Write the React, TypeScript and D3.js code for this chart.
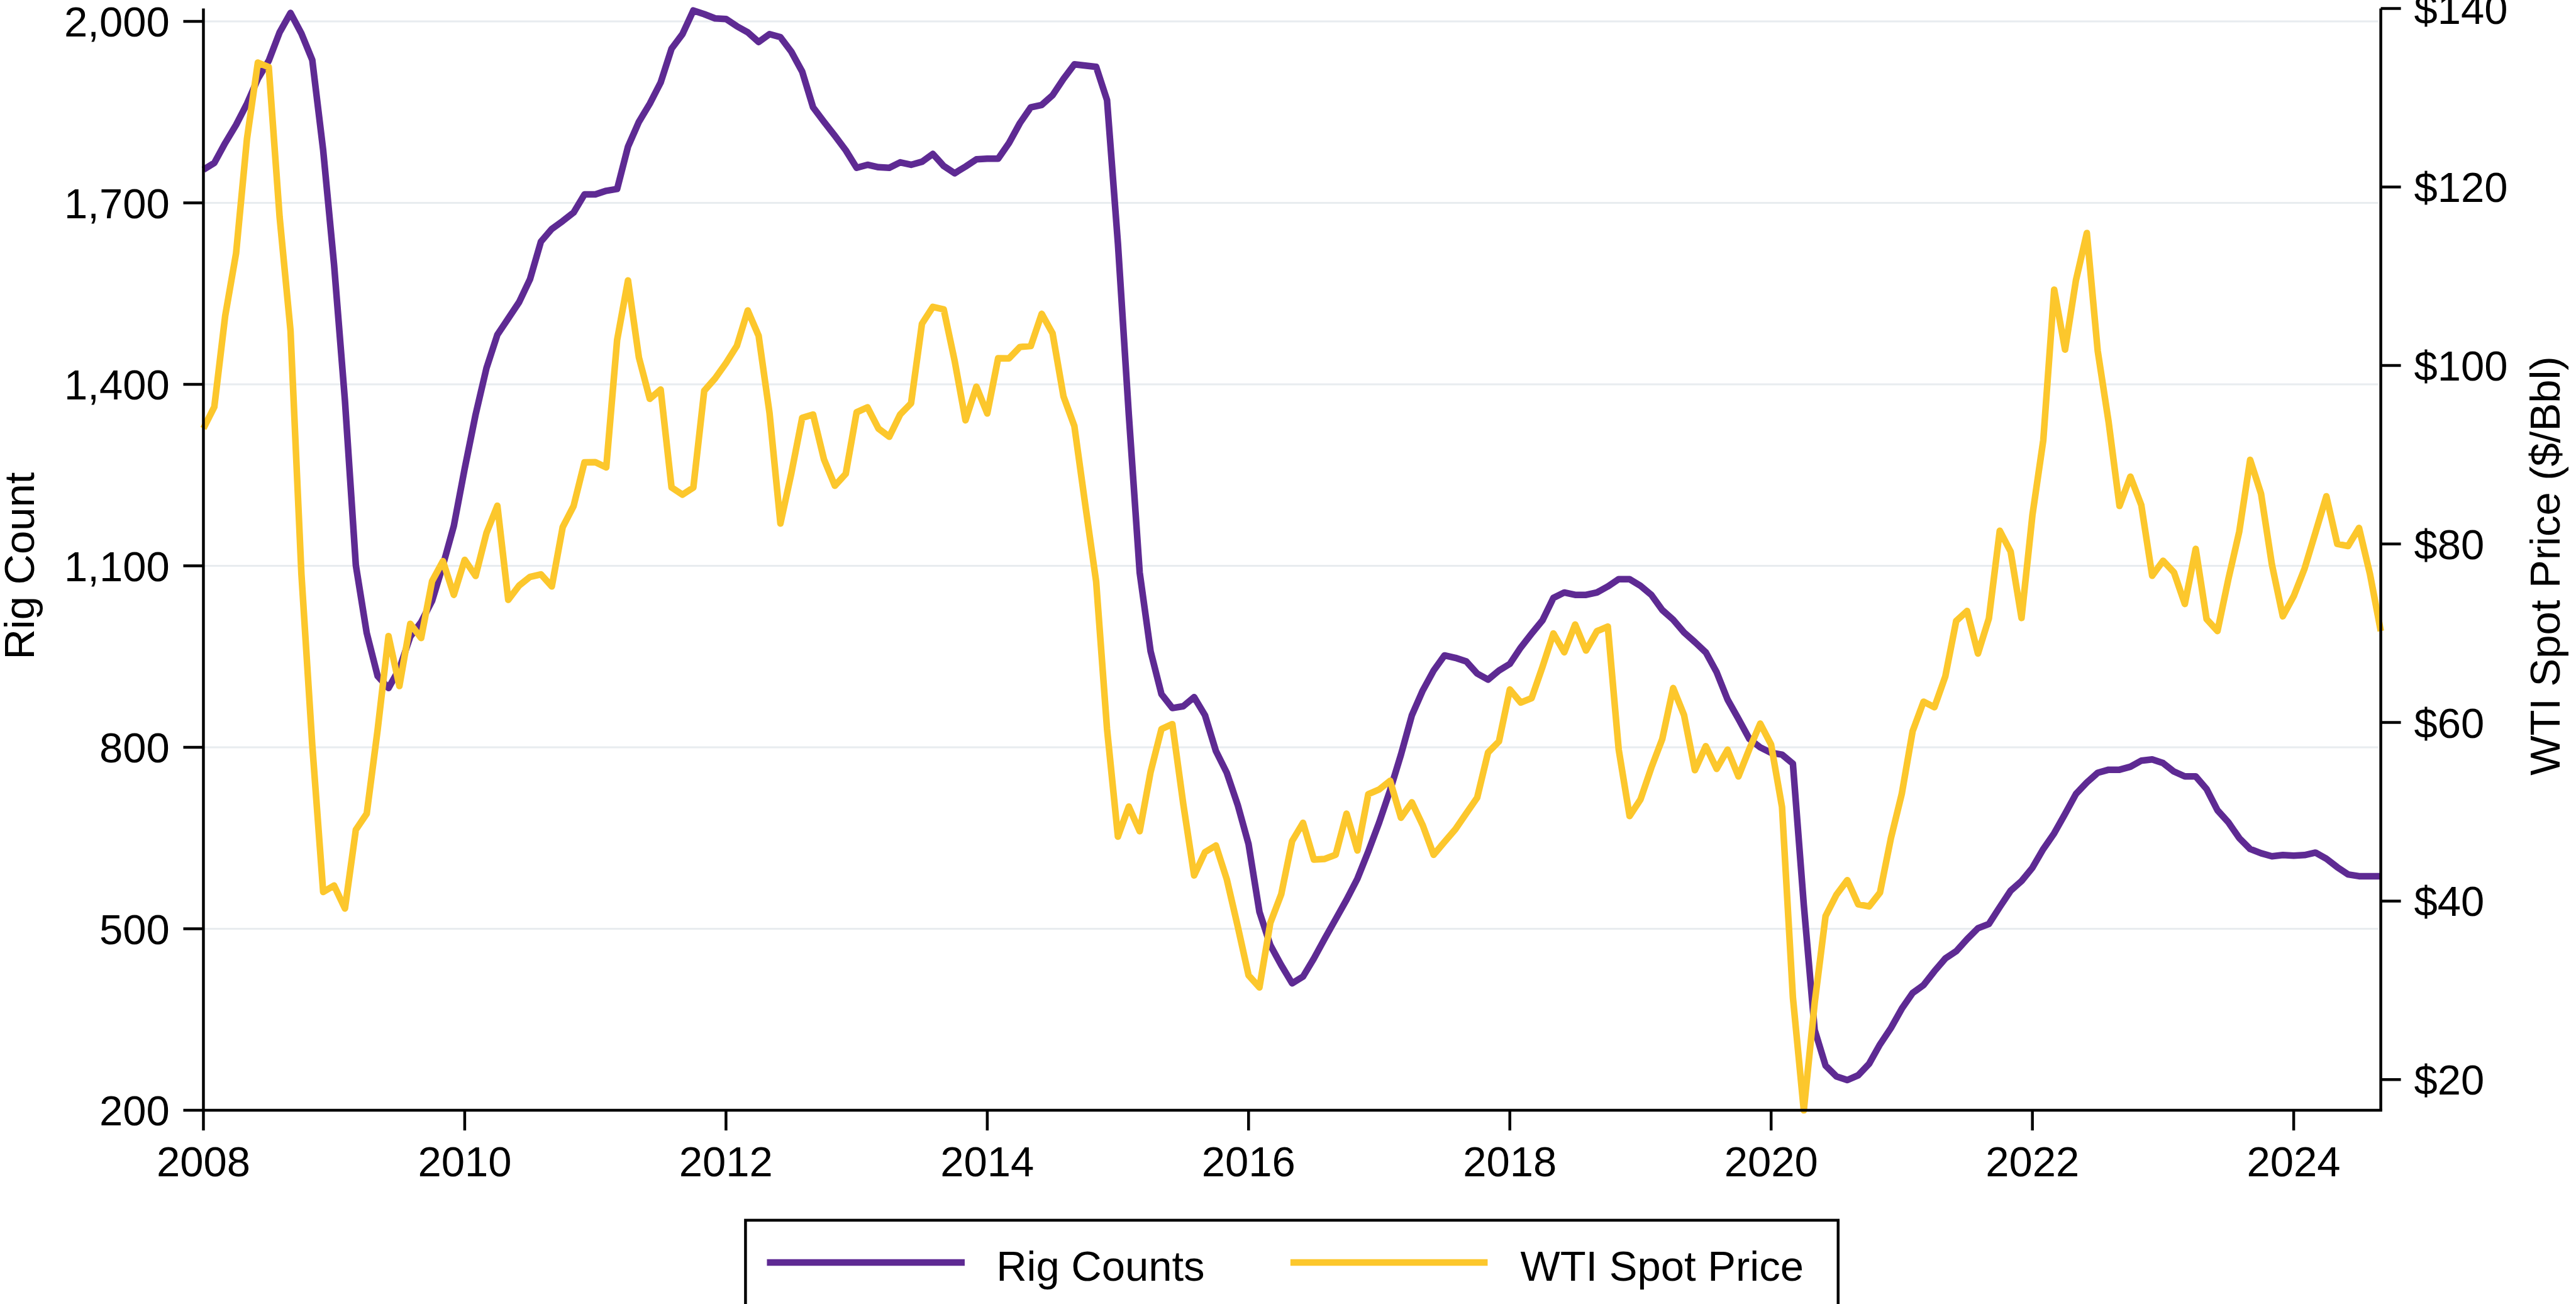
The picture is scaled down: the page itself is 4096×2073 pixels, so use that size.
import React from 'react';
import * as d3 from 'd3';

// Monthly data, Jan 2008 – Sep 2024
const startYear = 2008;

const rigCounts = [
  1755, 1766, 1799, 1829, 1864, 1905, 1935, 1982, 2014, 1980, 1936, 1787,
  1598, 1373, 1101, 989, 918, 898, 930, 983, 1007, 1042, 1101, 1166,
  1261, 1350, 1427, 1482, 1509, 1536, 1574, 1636, 1657, 1670, 1684, 1714,
  1714, 1720, 1723, 1793, 1834, 1864, 1899, 1955, 1979, 2018, 2012, 2005,
  2004, 1992, 1982, 1966, 1979, 1974, 1950, 1917, 1858, 1834, 1811, 1787,
  1758, 1763, 1759, 1758, 1767, 1763, 1768, 1781, 1761, 1749, 1760, 1772,
  1773, 1773, 1799, 1832, 1858, 1862, 1878, 1905, 1929, 1927, 1925, 1870,
  1633, 1350, 1089, 959, 888, 865, 868, 883, 853, 794, 758, 705,
  640, 528, 473, 440, 410, 421, 451, 484, 516, 548, 583, 628,
  676, 729, 788, 853, 894, 927, 952, 948, 942, 922, 912, 927,
  938, 965, 988, 1010, 1047, 1056, 1052, 1052, 1056, 1066, 1078, 1078,
  1067, 1052, 1027, 1011, 990, 974, 957, 924, 879, 847, 814, 800,
  791, 788, 773, 540, 333, 274, 256, 250, 258, 277, 309, 336,
  368, 394, 407, 430, 451, 463, 483, 501, 508, 536, 563, 579,
  601, 632, 658, 690, 723, 742, 758, 763, 763, 768, 778, 780,
  774, 760, 752, 752, 731, 696, 676, 650, 632, 625, 620, 622,
  621, 622, 626, 616, 602, 590, 587, 587, 587,
];

const wtiPrices = [
  92.95, 95.35, 105.56, 112.57, 125.39, 133.93, 133.44, 116.61, 103.9, 76.65, 57.44, 41.02,
  41.74, 39.16, 47.98, 49.79, 59.16, 69.68, 64.09, 71.06, 69.46, 75.82, 78.08, 74.3,
  78.22, 76.42, 81.24, 84.29, 73.74, 75.34, 76.32, 76.6, 75.24, 81.89, 84.25, 89.15,
  89.17, 88.58, 102.86, 109.53, 100.9, 96.26, 97.3, 86.33, 85.52, 86.32, 97.16, 98.56,
  100.27, 102.2, 106.16, 103.32, 94.66, 82.3, 87.9, 94.13, 94.51, 89.49, 86.53, 87.86,
  94.76, 95.31, 92.94, 92.02, 94.51, 95.77, 104.67, 106.57, 106.29, 100.54, 93.86, 97.63,
  94.62, 100.82, 100.8, 102.07, 102.18, 105.79, 103.59, 96.54, 93.21, 84.4, 75.79, 59.29,
  47.22, 50.58, 47.82, 54.45, 59.27, 59.82, 50.9, 42.87, 45.48, 46.22, 42.44, 37.19,
  31.68, 30.32, 37.55, 40.75, 46.71, 48.76, 44.65, 44.72, 45.18, 49.78, 45.66, 51.97,
  52.5, 53.47, 49.33, 51.06, 48.48, 45.18, 46.63, 48.04, 49.82, 51.58, 56.64, 57.88,
  63.7, 62.23, 62.73, 66.25, 69.98, 67.87, 70.98, 68.06, 70.23, 70.75, 56.96, 49.52,
  51.38, 54.95, 58.15, 63.86, 60.83, 54.66, 57.35, 54.81, 56.95, 53.96, 57.03, 59.88,
  57.52, 50.54, 29.21, 16.55, 28.56, 38.31, 40.71, 42.34, 39.63, 39.4, 40.94, 47.02,
  52.0, 59.04, 62.33, 61.72, 65.17, 71.38, 72.49, 67.73, 71.65, 81.48, 79.15, 71.71,
  83.22, 91.64, 108.5, 101.78, 109.55, 114.84, 101.62, 93.67, 84.26, 87.55, 84.37, 76.44,
  78.12, 76.83, 73.28, 79.45, 71.58, 70.25, 76.07, 81.39, 89.43, 85.64, 77.69, 71.9,
  74.15, 77.25, 81.28, 85.35, 80.02, 79.77, 81.8, 76.68, 70.24,
];

const yearTicks = [2008, 2010, 2012, 2014, 2016, 2018, 2020, 2022, 2024];
const rigTicks = [200, 500, 800, 1100, 1400, 1700, 2000];
const priceTicks = [20, 40, 60, 80, 100, 120, 140];
const legendLabels = ['Rig Counts', 'WTI Spot Price'];

const W = 4096;
const H = 2073;
const S = 0.896;

const PURPLE = '#5e2a93';
const GOLD = '#fcc72c';
const GRID = '#e8ecef';
const FONT = '"Liberation Sans", Arial, Helvetica, sans-serif';
const FS = 67;

export default function App() {
  const left = 361 * S;
  const right = 4225 * S;
  const top = 15 * S;
  const bottom = 1970 * S;

  const n = rigCounts.length;
  const x = d3.scaleLinear().domain([startYear, startYear + (n - 1) / 12]).range([left, right]);
  const yL = d3.scaleLinear().domain([200, 2000]).range([bottom, 38 * S]);
  const yR = d3.scaleLinear().domain([d3.min(wtiPrices) as number, 140]).range([bottom, top]);

  const t = (i: number) => startYear + i / 12;
  const rigLine = d3.line<number>().x((_, i) => x(t(i))).y((d) => yL(d));
  const wtiLine = d3.line<number>().x((_, i) => x(t(i))).y((d) => yR(d));

  const tickLen = 32;
  const axisW = 4.5;
  const lineW = 10.5;

  const legTop = 2165 * S;
  const legY = 2240 * S;

  return (
    <svg
      width={W}
      height={H}
      viewBox={`0 0 ${W} ${H}`}
      style={{ position: 'absolute', left: 0, top: 0, display: 'block', background: '#fff' }}
      fontFamily={FONT}
    >
      <rect x={0} y={0} width={W} height={H} fill="#fff" />
      {/* gridlines */}
      {rigTicks.filter((v) => v !== 200).map((v) => (
        <line key={'g' + v} x1={left} x2={right - 4} y1={yL(v)} y2={yL(v)} stroke={GRID} strokeWidth={3} />
      ))}

      {/* lines */}
      <path d={rigLine(rigCounts) || ''} fill="none" stroke={PURPLE} strokeWidth={lineW} strokeLinejoin="round" />
      <path d={wtiLine(wtiPrices) || ''} fill="none" stroke={GOLD} strokeWidth={lineW} strokeLinejoin="round" />

      {/* axes */}
      <line x1={left} x2={left} y1={top} y2={bottom} stroke="#000" strokeWidth={axisW} />
      <line x1={right} x2={right} y1={top} y2={bottom} stroke="#000" strokeWidth={axisW} />
      <line x1={left - axisW / 2} x2={right + axisW / 2} y1={bottom} y2={bottom} stroke="#000" strokeWidth={axisW} />

      {/* left ticks */}
      {rigTicks.map((v) => (
        <g key={'l' + v}>
          <line x1={left - tickLen} x2={left} y1={yL(v)} y2={yL(v)} stroke="#000" strokeWidth={axisW} />
          <text x={301 * S} y={yL(v)} dy="0.36em" textAnchor="end" fontSize={FS} fill="#000">
            {d3.format(',')(v)}
          </text>
        </g>
      ))}

      {/* right ticks */}
      {priceTicks.map((v) => (
        <g key={'r' + v}>
          <line x1={right} x2={right + tickLen} y1={yR(v)} y2={yR(v)} stroke="#000" strokeWidth={axisW} />
          <text x={4284 * S} y={yR(v)} dy="0.36em" textAnchor="start" fontSize={FS} fill="#000">
            {'$' + v}
          </text>
        </g>
      ))}

      {/* x ticks */}
      {yearTicks.map((v) => (
        <g key={'x' + v}>
          <line x1={x(v)} x2={x(v)} y1={bottom} y2={bottom + tickLen} stroke="#000" strokeWidth={axisW} />
          <text x={x(v)} y={2087 * S} textAnchor="middle" fontSize={FS} fill="#000">
            {v}
          </text>
        </g>
      ))}

      {/* axis titles */}
      <text transform={`translate(${54},${(yL(200) + yL(2000)) / 2}) rotate(-90)`} textAnchor="middle" fontSize={FS} fill="#000">
        Rig Count
      </text>
      <text transform={`translate(${4070},${(yL(200) + yL(2000)) / 2}) rotate(-90)`} textAnchor="middle" fontSize={FS} fill="#000">
        WTI Spot Price ($/Bbl)
      </text>

      {/* legend */}
      <rect x={1323 * S} y={legTop} width={(3262 - 1323) * S} height={300} fill="#fff" stroke="#000" strokeWidth={axisW} />
      <line x1={1361 * S} x2={1712 * S} y1={legY} y2={legY} stroke={PURPLE} strokeWidth={lineW} />
      <text x={1768 * S} y={2272 * S} fontSize={FS} fill="#000">{legendLabels[0]}</text>
      <line x1={2290 * S} x2={2640 * S} y1={legY} y2={legY} stroke={GOLD} strokeWidth={lineW} />
      <text x={2698 * S} y={2272 * S} fontSize={FS} fill="#000">{legendLabels[1]}</text>
    </svg>
  );
}
